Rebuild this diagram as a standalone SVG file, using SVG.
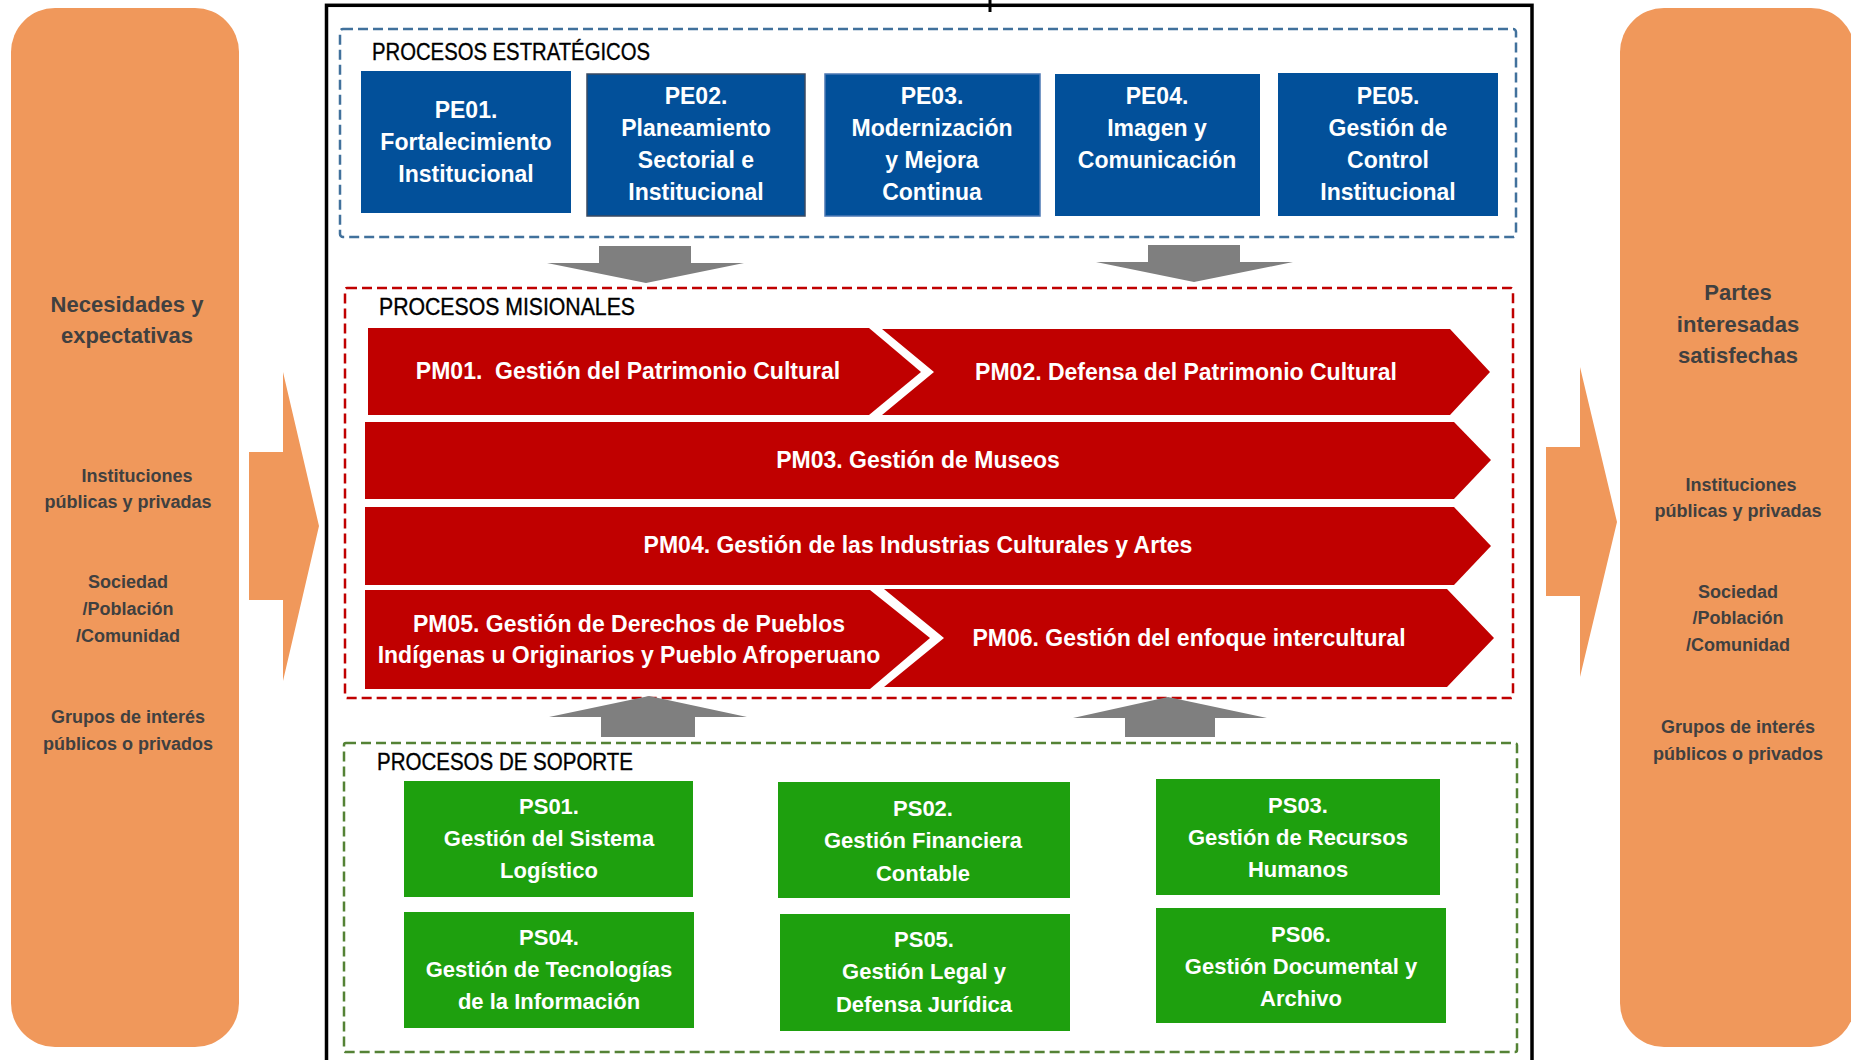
<svg xmlns="http://www.w3.org/2000/svg" width="1851" height="1060" viewBox="0 0 1851 1060">
<style>
.og{fill:#F0985B}
.ot{fill:#404040;font-family:"Liberation Sans",Arial,sans-serif;font-weight:bold;font-size:22px;text-anchor:middle}
.os{font-size:18px}
.frame{fill:#fff;stroke:#000;stroke-width:3.5}
.title{fill:#000;stroke:#000;stroke-width:0.35;font-family:"Liberation Sans",Arial,sans-serif;font-size:23px}
.pe{fill:#02509A}
.pm{fill:#C00000}
.ps{fill:#1EA00E}
.wt{fill:#fff;font-family:"Liberation Sans",Arial,sans-serif;font-weight:bold;font-size:23px;text-anchor:middle}
.wg{font-size:22px}
.arr{fill:#7F7F7F}
.oarr{fill:#F0985B}
.dash{fill:none;stroke-width:2.5;stroke-dasharray:10 5}
</style>

<g id="input">
  <rect class="og" x="11" y="8" width="228" height="1039" rx="44" ry="44"/>
  <text class="ot" x="127" y="312">Necesidades y</text>
  <text class="ot" x="127" y="343">expectativas</text>
  <text class="ot os" x="137" y="482">Instituciones</text>
  <text class="ot os" x="128" y="508">públicas y privadas</text>
  <text class="ot os" x="128" y="588">Sociedad</text>
  <text class="ot os" x="128" y="615">/Población</text>
  <text class="ot os" x="128" y="642">/Comunidad</text>
  <text class="ot os" x="128" y="723">Grupos de interés</text>
  <text class="ot os" x="128" y="750">públicos o privados</text>
</g>

<g id="output">
  <rect class="og" x="1620" y="8" width="235" height="1039" rx="44" ry="44"/>
  <text class="ot" x="1738" y="300">Partes</text>
  <text class="ot" x="1738" y="332">interesadas</text>
  <text class="ot" x="1738" y="363">satisfechas</text>
  <text class="ot os" x="1741" y="491">Instituciones</text>
  <text class="ot os" x="1738" y="517">públicas y privadas</text>
  <text class="ot os" x="1738" y="598">Sociedad</text>
  <text class="ot os" x="1738" y="624">/Población</text>
  <text class="ot os" x="1738" y="651">/Comunidad</text>
  <text class="ot os" x="1738" y="733">Grupos de interés</text>
  <text class="ot os" x="1738" y="760">públicos o privados</text>
</g>

<g id="frame">
  <rect class="frame" x="326.5" y="5.3" width="1205.5" height="1080"/>
  <line x1="990" y1="0" x2="990" y2="12" stroke="#000" stroke-width="3"/>
</g>

<g id="estrategicos">
  <rect class="dash" stroke="#41719C" x="340" y="29" width="1176" height="208" rx="3"/>
  <text class="title" x="372" y="60" textLength="278" lengthAdjust="spacingAndGlyphs">PROCESOS ESTRATÉGICOS</text>
  <g id="PE01">
    <rect class="pe" x="361" y="71" width="210" height="142"/>
    <text class="wt" x="466" y="118">PE01.</text>
    <text class="wt" x="466" y="150">Fortalecimiento</text>
    <text class="wt" x="466" y="182">Institucional</text>
  </g>
  <g id="PE02">
    <rect class="pe" x="587" y="74" width="218" height="142" stroke="#3A4A62" stroke-width="1.5"/>
    <text class="wt" x="696" y="104">PE02.</text>
    <text class="wt" x="696" y="136">Planeamiento</text>
    <text class="wt" x="696" y="168">Sectorial e</text>
    <text class="wt" x="696" y="200">Institucional</text>
  </g>
  <g id="PE03">
    <rect class="pe" x="825" y="74" width="215" height="142" stroke="#4C78B4" stroke-width="1.5"/>
    <text class="wt" x="932" y="104">PE03.</text>
    <text class="wt" x="932" y="136">Modernización</text>
    <text class="wt" x="932" y="168">y Mejora</text>
    <text class="wt" x="932" y="200">Continua</text>
  </g>
  <g id="PE04">
    <rect class="pe" x="1055" y="74" width="205" height="142"/>
    <text class="wt" x="1157" y="104">PE04.</text>
    <text class="wt" x="1157" y="136">Imagen y</text>
    <text class="wt" x="1157" y="168">Comunicación</text>
  </g>
  <g id="PE05">
    <rect class="pe" x="1278" y="73" width="220" height="143"/>
    <text class="wt" x="1388" y="104">PE05.</text>
    <text class="wt" x="1388" y="136">Gestión de</text>
    <text class="wt" x="1388" y="168">Control</text>
    <text class="wt" x="1388" y="200">Institucional</text>
  </g>
</g>

<g id="misionales">
  <rect class="dash" stroke="#C00000" x="345" y="288" width="1168" height="410" rx="2"/>
  <text class="title" x="379" y="315" textLength="256" lengthAdjust="spacingAndGlyphs">PROCESOS MISIONALES</text>
  <g id="PM01">
    <polygon class="pm" points="368,328 869,328 921,372 869,415 368,415"/>
    <text class="wt" x="628" y="379" xml:space="preserve">PM01.  Gestión del Patrimonio Cultural</text>
  </g>
  <g id="PM02">
    <polygon class="pm" points="882,329 1450,329 1490,372 1450,415 882,415 934,372"/>
    <text class="wt" x="1186" y="380">PM02. Defensa del Patrimonio Cultural</text>
  </g>
  <g id="PM03">
    <polygon class="pm" points="365,422 1454,422 1491,460 1454,499 365,499"/>
    <text class="wt" x="918" y="468">PM03. Gestión de Museos</text>
  </g>
  <g id="PM04">
    <polygon class="pm" points="365,507 1454,507 1491,546 1454,585 365,585"/>
    <text class="wt" x="918" y="553">PM04. Gestión de las Industrias Culturales y Artes</text>
  </g>
  <g id="PM05">
    <polygon class="pm" points="365,590 870,590 930,638 870,689 365,689"/>
    <text class="wt" x="629" y="632">PM05. Gestión de Derechos de Pueblos</text>
    <text class="wt" x="629" y="663">Indígenas u Originarios y Pueblo Afroperuano</text>
  </g>
  <g id="PM06">
    <polygon class="pm" points="884,589 1447,589 1494,638 1447,687 884,687 944,638"/>
    <text class="wt" x="1189" y="646">PM06. Gestión del enfoque intercultural</text>
  </g>
</g>

<g id="soporte">
  <rect class="dash" stroke="#548235" x="344" y="743" width="1173" height="309" rx="2"/>
  <text class="title" x="377" y="770" textLength="256" lengthAdjust="spacingAndGlyphs">PROCESOS DE SOPORTE</text>
  <g id="PS01">
    <rect class="ps" x="404" y="781" width="289" height="116"/>
    <text class="wt wg" x="549" y="814">PS01.</text>
    <text class="wt wg" x="549" y="846">Gestión del Sistema</text>
    <text class="wt wg" x="549" y="878">Logístico</text>
  </g>
  <g id="PS02">
    <rect class="ps" x="778" y="782" width="292" height="116"/>
    <text class="wt wg" x="923" y="816">PS02.</text>
    <text class="wt wg" x="923" y="848">Gestión Financiera</text>
    <text class="wt wg" x="923" y="881">Contable</text>
  </g>
  <g id="PS03">
    <rect class="ps" x="1156" y="779" width="284" height="116"/>
    <text class="wt wg" x="1298" y="813">PS03.</text>
    <text class="wt wg" x="1298" y="845">Gestión de Recursos</text>
    <text class="wt wg" x="1298" y="877">Humanos</text>
  </g>
  <g id="PS04">
    <rect class="ps" x="404" y="912" width="290" height="116"/>
    <text class="wt wg" x="549" y="945">PS04.</text>
    <text class="wt wg" x="549" y="977">Gestión de Tecnologías</text>
    <text class="wt wg" x="549" y="1009">de la Información</text>
  </g>
  <g id="PS05">
    <rect class="ps" x="780" y="914" width="290" height="117"/>
    <text class="wt wg" x="924" y="947">PS05.</text>
    <text class="wt wg" x="924" y="979">Gestión Legal y</text>
    <text class="wt wg" x="924" y="1012">Defensa Jurídica</text>
  </g>
  <g id="PS06">
    <rect class="ps" x="1156" y="908" width="290" height="115"/>
    <text class="wt wg" x="1301" y="942">PS06.</text>
    <text class="wt wg" x="1301" y="974">Gestión Documental y</text>
    <text class="wt wg" x="1301" y="1006">Archivo</text>
  </g>
</g>

<g id="connectors">
  <polygon class="oarr" points="249,452 283,452 283,372 319,526 283,681 283,600 249,600"/>
  <polygon class="oarr" points="1546,447 1580,447 1580,367 1617,522 1580,677 1580,596 1546,596"/>
  <polygon class="arr" points="599,246 691,246 691,263 744,263 646,283 547,263 599,263"/>
  <polygon class="arr" points="1148,245 1240,245 1240,262 1293,262 1194,282 1096,262 1148,262"/>
  <polygon class="arr" points="601,737 695,737 695,717 747,717 649,696 549,717 601,717"/>
  <polygon class="arr" points="1125,737 1215,737 1215,718 1267,718 1168,697 1073,718 1125,718"/>
</g>
</svg>
